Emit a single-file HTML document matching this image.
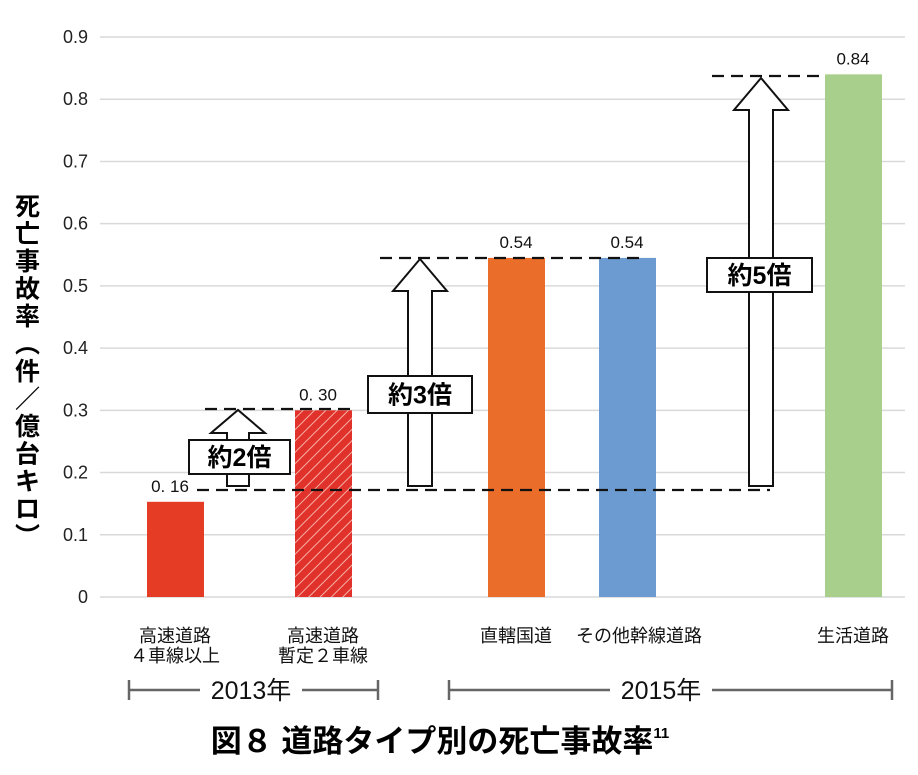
<!DOCTYPE html>
<html><head><meta charset="utf-8"><style>
body{margin:0;background:#fff}
svg text{font-family:"Liberation Sans","Noto Sans CJK JP",sans-serif}
</style></head><body>
<svg width="918" height="770" viewBox="0 0 918 770" xmlns="http://www.w3.org/2000/svg">
<defs>
<pattern id="hatch" patternUnits="userSpaceOnUse" width="8" height="8" patternTransform="rotate(45)">
<rect width="8" height="8" fill="#e0322a"/><line x1="0" y1="0" x2="0" y2="8" stroke="#f6b0a8" stroke-width="2"/>
</pattern>
</defs>
<g id="grid"></g>
<g id="bars"></g>
<g id="overlay"></g>
<text x="27" y="0" font-size="25" font-weight="bold" id="ytitle"></text>
<text x="440" y="752" font-size="31" font-weight="bold" text-anchor="middle">図８ 道路タイプ別の死亡事故率<tspan font-size="15" dy="-14">11</tspan></text>
</svg>
<script>
const categories=["高速道路\n４車線以上","高速道路\n暫定２車線","直轄国道","その他幹線道路","生活道路"];
const values=[0.153,0.30,0.545,0.545,0.84];
const valueLabels=["0. 16","0. 30","0.54","0.54","0.84"];
const ticks=[0,0.1,0.2,0.3,0.4,0.5,0.6,0.7,0.8,0.9];
const colors=["#e53c25","url(#hatch)","#eb6d2a","#6b9bd1","#a8cf8c"];
const centers=[175,323,516,627,853];
const NS="http://www.w3.org/2000/svg";
const y=v=>597-v*622.2;
function mk(t,a,p){const e=document.createElementNS(NS,t);for(const k in a)e.setAttribute(k,a[k]);(p||document.querySelector('svg')).appendChild(e);return e;}
const grid=document.getElementById('grid'),bars=document.getElementById('bars'),ov=document.getElementById('overlay');
ticks.forEach(t=>{
const l=mk('line',{x1:100,x2:905,y1:y(t),y2:y(t),stroke:'#d9d9d9','stroke-width':1.5},grid);


const tx=mk('text',{x:88,y:y(t)+6,'font-size':18,'text-anchor':'end',fill:'#222'},grid);
tx.textContent=String(t);


});
values.forEach((v,i)=>{
const r=mk('rect',{x:centers[i]-28,y:y(v),width:57,height:597-y(v),fill:colors[i]},bars);


const t=mk('text',{x:centers[i]+(i<2?-5:0),y:y(v)-10,'font-size':17,'text-anchor':'middle',fill:'#111'},bars);
t.textContent=valueLabels[i];


categories[i].split('\n').forEach((s,j)=>{
const c=mk('text',{x:centers[i]+(i==3?12:0),y:642+j*20,'font-size':18,'text-anchor':'middle',fill:'#111'},bars);
c.textContent=s;


});
});
[[197,770,490],[205,352,409],[380,640,258],[712,825,76]].forEach(d=>{
const l=mk('line',{x1:d[0],x2:d[1],y1:d[2],y2:d[2],stroke:'#111','stroke-width':2.2,'stroke-dasharray':'12 7'},ov);


});
function arrow(cx,b,t,sw,hw,hh,box,label){
const p=`M${cx-sw},${b} L${cx-sw},${t+hh} L${cx-hw},${t+hh} L${cx},${t} L${cx+hw},${t+hh} L${cx+sw},${t+hh} L${cx+sw},${b} Z`;
const a=mk('path',{d:p,fill:'#fff',stroke:'#111','stroke-width':2},ov);


const r=mk('rect',{x:box[0],y:box[1],width:box[2],height:box[3],fill:'#fff',stroke:'#111','stroke-width':2},ov);


const tx=mk('text',{x:box[0]+box[2]/2,y:box[1]+box[3]/2+9,'font-size':25,'font-weight':'bold','text-anchor':'middle'},ov);
tx.textContent=label;


}
arrow(238,486,410,11,27,23,[189,440,101,34],'約2倍');
arrow(420,486,259,12,27,32,[368,376,104,37],'約3倍');
arrow(761,486,78,12,27,32,[707,258,105,34],'約5倍');
function bracket(x1,x2,lx1,lx2,label,cx){
const g=mk('g',{stroke:'#666','stroke-width':2.5},ov);


mk('line',{x1:x1,x2:lx1,y1:690,y2:690},g);mk('line',{x1:lx2,x2:x2,y1:690,y2:690},g);
mk('line',{x1:x1,x2:x1,y1:680,y2:700},g);mk('line',{x1:x2,x2:x2,y1:680,y2:700},g);
const t=mk('text',{x:cx,y:699,'font-size':25,'text-anchor':'middle',fill:'#111'},ov);
t.textContent=label;


}
bracket(129,378,200,302,'2013年',251);
bracket(449,892,610,712,'2015年',661);
const yt=document.getElementById('ytitle');
"死亡事故率︵件／億台キロ︶".split('').forEach((c,i)=>{const s=document.createElementNS(NS,'tspan');s.setAttribute('x',15);s.setAttribute('y',215+i*27.5);s.textContent=c;yt.appendChild(s);});
</script>
</body></html>
